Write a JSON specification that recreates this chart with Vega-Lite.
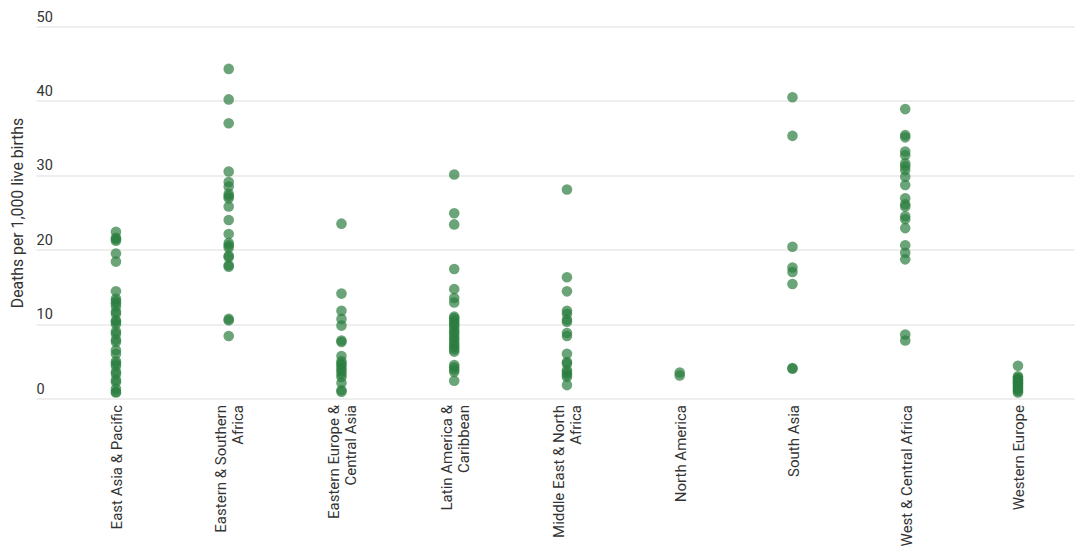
{
  "$schema": "https://vega.github.io/schema/vega-lite/v6.json",
  "autosize": {"type": "none"},
  "padding": {"left": 36, "top": 26.5, "right": 10, "bottom": 153.5},
  "width": 1038,
  "height": 372,
  "background": "white",
  "config": {"view": {"stroke": null}, "font": "Roboto"},
  "datasets": {
    "deaths": [
      {"region": "East Asia & Pacific", "rate": 22.4}, {"region": "East Asia & Pacific", "rate": 21.6}, {"region": "East Asia & Pacific", "rate": 21.4}, {"region": "East Asia & Pacific", "rate": 21.2},
      {"region": "East Asia & Pacific", "rate": 19.5}, {"region": "East Asia & Pacific", "rate": 18.4}, {"region": "East Asia & Pacific", "rate": 14.4}, {"region": "East Asia & Pacific", "rate": 13.4},
      {"region": "East Asia & Pacific", "rate": 13.1}, {"region": "East Asia & Pacific", "rate": 12.8}, {"region": "East Asia & Pacific", "rate": 12.4}, {"region": "East Asia & Pacific", "rate": 11.7},
      {"region": "East Asia & Pacific", "rate": 11.4}, {"region": "East Asia & Pacific", "rate": 10.5}, {"region": "East Asia & Pacific", "rate": 10.3}, {"region": "East Asia & Pacific", "rate": 10.0},
      {"region": "East Asia & Pacific", "rate": 9.0}, {"region": "East Asia & Pacific", "rate": 8.7}, {"region": "East Asia & Pacific", "rate": 7.9}, {"region": "East Asia & Pacific", "rate": 7.6},
      {"region": "East Asia & Pacific", "rate": 6.5}, {"region": "East Asia & Pacific", "rate": 6.0}, {"region": "East Asia & Pacific", "rate": 5.0}, {"region": "East Asia & Pacific", "rate": 4.7},
      {"region": "East Asia & Pacific", "rate": 4.4}, {"region": "East Asia & Pacific", "rate": 3.6}, {"region": "East Asia & Pacific", "rate": 3.3}, {"region": "East Asia & Pacific", "rate": 2.5},
      {"region": "East Asia & Pacific", "rate": 2.2}, {"region": "East Asia & Pacific", "rate": 1.3}, {"region": "East Asia & Pacific", "rate": 0.9}, {"region": "East Asia & Pacific", "rate": 0.8},
      {"region": "Eastern & Southern Africa", "rate": 44.3}, {"region": "Eastern & Southern Africa", "rate": 40.2}, {"region": "Eastern & Southern Africa", "rate": 37.0}, {"region": "Eastern & Southern Africa", "rate": 30.5},
      {"region": "Eastern & Southern Africa", "rate": 29.1}, {"region": "Eastern & Southern Africa", "rate": 28.5}, {"region": "Eastern & Southern Africa", "rate": 27.5}, {"region": "Eastern & Southern Africa", "rate": 27.2},
      {"region": "Eastern & Southern Africa", "rate": 26.9}, {"region": "Eastern & Southern Africa", "rate": 25.8}, {"region": "Eastern & Southern Africa", "rate": 24.0}, {"region": "Eastern & Southern Africa", "rate": 22.1},
      {"region": "Eastern & Southern Africa", "rate": 20.9}, {"region": "Eastern & Southern Africa", "rate": 20.6}, {"region": "Eastern & Southern Africa", "rate": 20.3}, {"region": "Eastern & Southern Africa", "rate": 19.2},
      {"region": "Eastern & Southern Africa", "rate": 19.0}, {"region": "Eastern & Southern Africa", "rate": 17.9}, {"region": "Eastern & Southern Africa", "rate": 17.7}, {"region": "Eastern & Southern Africa", "rate": 10.7},
      {"region": "Eastern & Southern Africa", "rate": 10.5}, {"region": "Eastern & Southern Africa", "rate": 8.4},
      {"region": "Eastern Europe & Central Asia", "rate": 23.5}, {"region": "Eastern Europe & Central Asia", "rate": 14.1}, {"region": "Eastern Europe & Central Asia", "rate": 11.8}, {"region": "Eastern Europe & Central Asia", "rate": 10.7},
      {"region": "Eastern Europe & Central Asia", "rate": 9.8}, {"region": "Eastern Europe & Central Asia", "rate": 7.8}, {"region": "Eastern Europe & Central Asia", "rate": 7.6}, {"region": "Eastern Europe & Central Asia", "rate": 5.7},
      {"region": "Eastern Europe & Central Asia", "rate": 5.0}, {"region": "Eastern Europe & Central Asia", "rate": 4.7}, {"region": "Eastern Europe & Central Asia", "rate": 4.4}, {"region": "Eastern Europe & Central Asia", "rate": 4.0},
      {"region": "Eastern Europe & Central Asia", "rate": 3.7}, {"region": "Eastern Europe & Central Asia", "rate": 3.3}, {"region": "Eastern Europe & Central Asia", "rate": 2.9}, {"region": "Eastern Europe & Central Asia", "rate": 2.1},
      {"region": "Eastern Europe & Central Asia", "rate": 1.1}, {"region": "Eastern Europe & Central Asia", "rate": 0.9},
      {"region": "Latin America & Caribbean", "rate": 30.1}, {"region": "Latin America & Caribbean", "rate": 24.9}, {"region": "Latin America & Caribbean", "rate": 23.4}, {"region": "Latin America & Caribbean", "rate": 17.4},
      {"region": "Latin America & Caribbean", "rate": 14.7}, {"region": "Latin America & Caribbean", "rate": 13.5}, {"region": "Latin America & Caribbean", "rate": 12.9}, {"region": "Latin America & Caribbean", "rate": 11.0},
      {"region": "Latin America & Caribbean", "rate": 10.8}, {"region": "Latin America & Caribbean", "rate": 10.5}, {"region": "Latin America & Caribbean", "rate": 10.2}, {"region": "Latin America & Caribbean", "rate": 9.9},
      {"region": "Latin America & Caribbean", "rate": 9.6}, {"region": "Latin America & Caribbean", "rate": 9.2}, {"region": "Latin America & Caribbean", "rate": 8.9}, {"region": "Latin America & Caribbean", "rate": 8.6},
      {"region": "Latin America & Caribbean", "rate": 8.2}, {"region": "Latin America & Caribbean", "rate": 7.9}, {"region": "Latin America & Caribbean", "rate": 7.5}, {"region": "Latin America & Caribbean", "rate": 7.2},
      {"region": "Latin America & Caribbean", "rate": 6.9}, {"region": "Latin America & Caribbean", "rate": 6.6}, {"region": "Latin America & Caribbean", "rate": 6.3}, {"region": "Latin America & Caribbean", "rate": 4.5},
      {"region": "Latin America & Caribbean", "rate": 4.2}, {"region": "Latin America & Caribbean", "rate": 3.9}, {"region": "Latin America & Caribbean", "rate": 3.6}, {"region": "Latin America & Caribbean", "rate": 2.4},
      {"region": "Middle East & North Africa", "rate": 28.1}, {"region": "Middle East & North Africa", "rate": 16.3}, {"region": "Middle East & North Africa", "rate": 14.4}, {"region": "Middle East & North Africa", "rate": 11.8},
      {"region": "Middle East & North Africa", "rate": 11.4}, {"region": "Middle East & North Africa", "rate": 10.6}, {"region": "Middle East & North Africa", "rate": 10.3}, {"region": "Middle East & North Africa", "rate": 8.8},
      {"region": "Middle East & North Africa", "rate": 8.4}, {"region": "Middle East & North Africa", "rate": 6.0}, {"region": "Middle East & North Africa", "rate": 4.9}, {"region": "Middle East & North Africa", "rate": 4.7},
      {"region": "Middle East & North Africa", "rate": 3.8}, {"region": "Middle East & North Africa", "rate": 3.5}, {"region": "Middle East & North Africa", "rate": 3.2}, {"region": "Middle East & North Africa", "rate": 2.9},
      {"region": "Middle East & North Africa", "rate": 1.8},
      {"region": "North America", "rate": 3.5}, {"region": "North America", "rate": 3.1},
      {"region": "South Asia", "rate": 40.5}, {"region": "South Asia", "rate": 35.3}, {"region": "South Asia", "rate": 20.4}, {"region": "South Asia", "rate": 17.6},
      {"region": "South Asia", "rate": 17.0}, {"region": "South Asia", "rate": 15.4}, {"region": "South Asia", "rate": 4.1}, {"region": "South Asia", "rate": 4.0},
      {"region": "West & Central Africa", "rate": 38.9}, {"region": "West & Central Africa", "rate": 35.4}, {"region": "West & Central Africa", "rate": 35.1}, {"region": "West & Central Africa", "rate": 33.2},
      {"region": "West & Central Africa", "rate": 32.7}, {"region": "West & Central Africa", "rate": 31.6}, {"region": "West & Central Africa", "rate": 31.2}, {"region": "West & Central Africa", "rate": 30.7},
      {"region": "West & Central Africa", "rate": 29.8}, {"region": "West & Central Africa", "rate": 28.7}, {"region": "West & Central Africa", "rate": 26.9}, {"region": "West & Central Africa", "rate": 26.1},
      {"region": "West & Central Africa", "rate": 25.8}, {"region": "West & Central Africa", "rate": 24.5}, {"region": "West & Central Africa", "rate": 24.1}, {"region": "West & Central Africa", "rate": 22.9},
      {"region": "West & Central Africa", "rate": 20.6}, {"region": "West & Central Africa", "rate": 19.6}, {"region": "West & Central Africa", "rate": 18.7}, {"region": "West & Central Africa", "rate": 8.6},
      {"region": "West & Central Africa", "rate": 7.8},
      {"region": "Western Europe", "rate": 4.4}, {"region": "Western Europe", "rate": 3.0}, {"region": "Western Europe", "rate": 2.8}, {"region": "Western Europe", "rate": 2.6},
      {"region": "Western Europe", "rate": 2.5}, {"region": "Western Europe", "rate": 2.3}, {"region": "Western Europe", "rate": 2.1}, {"region": "Western Europe", "rate": 2.0},
      {"region": "Western Europe", "rate": 1.8}, {"region": "Western Europe", "rate": 1.6}, {"region": "Western Europe", "rate": 1.4}, {"region": "Western Europe", "rate": 1.2},
      {"region": "Western Europe", "rate": 1.0}, {"region": "Western Europe", "rate": 0.8}
    ]
  },
  "data": {"name": "deaths"},
  "mark": {"type": "circle", "size": 112, "color": "#2b7e3e", "opacity": 0.7},
  "encoding": {
    "x": {
      "field": "region",
      "type": "nominal",
      "title": null,
      "scale": {"type": "point", "padding": 0.603, "align": 0.588},
      "axis": {
        "domain": false,
        "ticks": false,
        "grid": false,
        "labelAngle": 270,
        "labelAlign": "right",
        "labelBaseline": "middle",
        "labelPadding": 6,
        "labelOffset": {"condition": {"test": "length(datum.value) > 22", "value": -8}, "value": 1},
        "labelFont": "Roboto",
        "labelFontSize": 15,
        "labelColor": "#333333",
        "labelLimit": 200,
        "labelLineHeight": 17,
        "labelExpr": "datum.label == 'Eastern & Southern Africa' ? ['Eastern & Southern', 'Africa'] : datum.label == 'Eastern Europe & Central Asia' ? ['Eastern Europe &', 'Central Asia'] : datum.label == 'Latin America & Caribbean' ? ['Latin America &', 'Caribbean'] : datum.label == 'Middle East & North Africa' ? ['Middle East & North', 'Africa'] : datum.label"
      }
    },
    "y": {
      "field": "rate",
      "type": "quantitative",
      "title": "Deaths per 1,000 live births",
      "scale": {"domain": [0, 50]},
      "axis": {
        "values": [0, 10, 20, 30, 40, 50],
        "domain": false,
        "ticks": false,
        "grid": true,
        "gridColor": "#e8e8e8",
        "gridWidth": 1.5,
        "labelAlign": "left",
        "labelBaseline": "middle",
        "labelPadding": 0,
        "labelOffset": -9.5,
        "labelFont": "Roboto",
        "labelFontSize": 14.5,
        "labelColor": "#333333",
        "titleFont": "Roboto",
        "titleFontSize": 15.8,
        "titleFontWeight": "normal",
        "titleColor": "#333333",
        "titlePadding": 0,
        "titleX": -11,
        "titleY": 186
      }
    }
  }
}
